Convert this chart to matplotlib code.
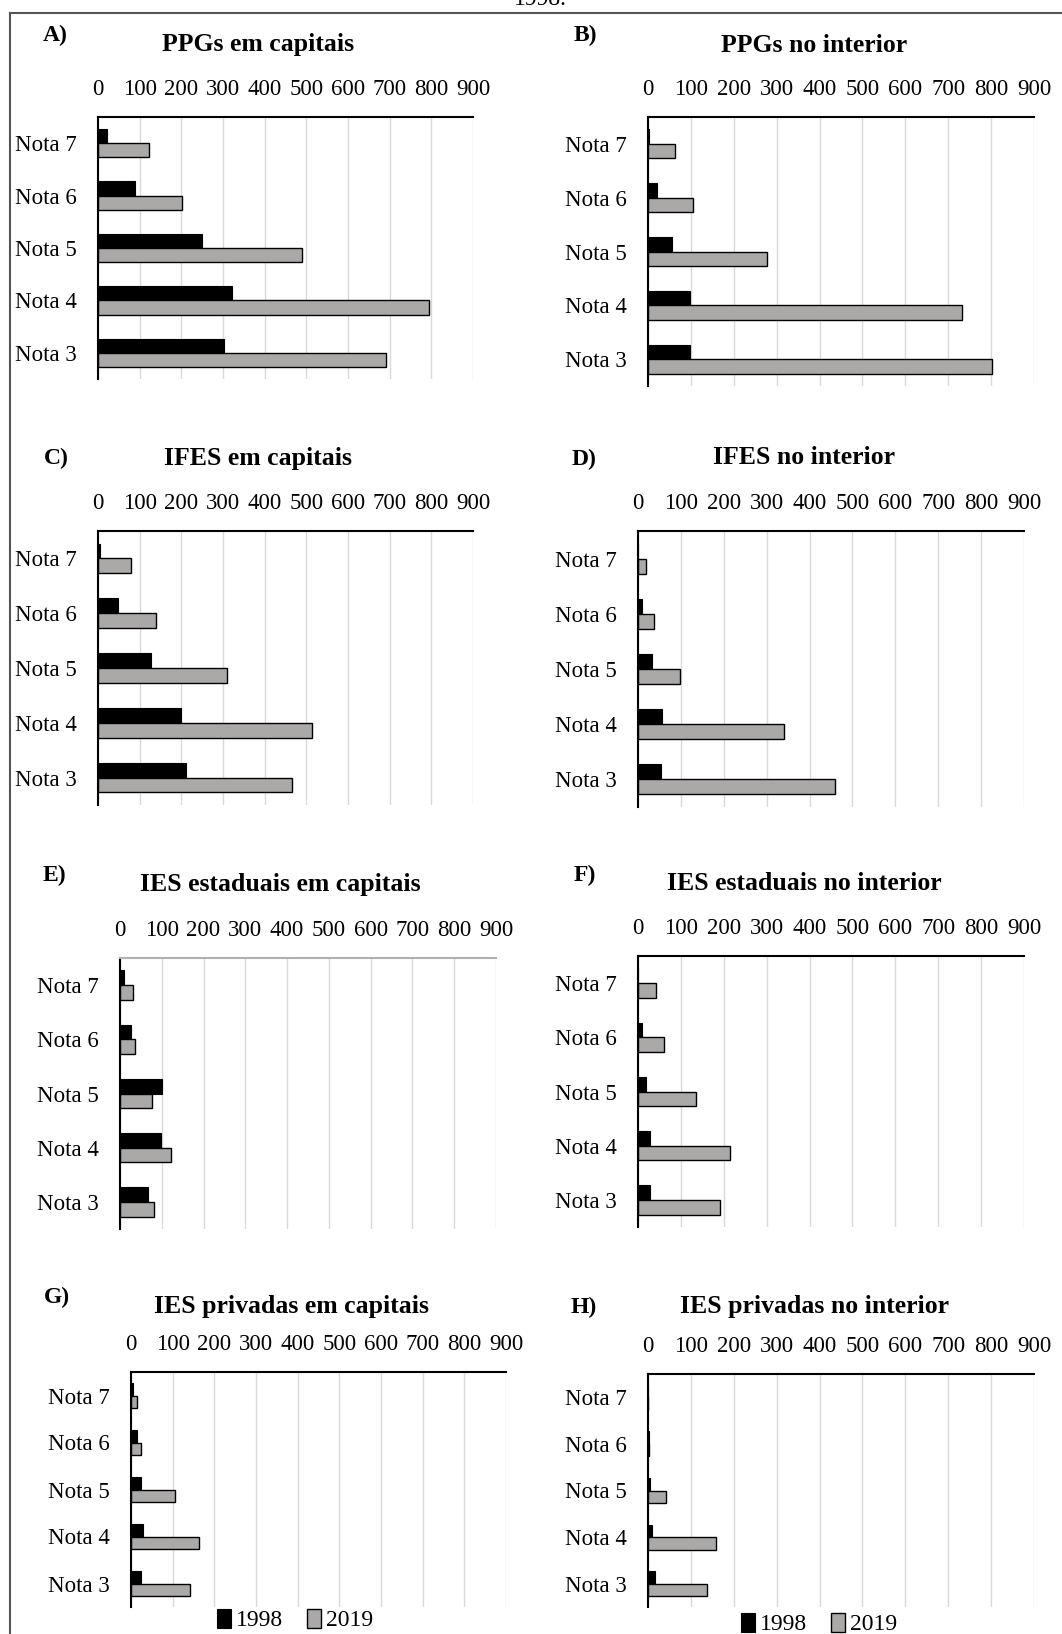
import matplotlib.pyplot as plt
from matplotlib.lines import Line2D
import numpy as np

plt.rcParams['font.family'] = ['Liberation Serif', 'DejaVu Serif']

notas = ['Nota 7', 'Nota 6', 'Nota 5', 'Nota 4', 'Nota 3']
ticks = [0, 100, 200, 300, 400, 500, 600, 700, 800, 900]
anos = ['1998', '2019']

# values, Nota 7 .. Nota 3
ppg_cap_1998 = [21, 89, 250, 322, 302]
ppg_cap_2019 = [122, 202, 490, 794, 690]
ppg_int_1998 = [3, 22, 56, 98, 98]
ppg_int_2019 = [64, 106, 278, 733, 803]
ifes_cap_1998 = [5, 49, 126, 198, 212]
ifes_cap_2019 = [78, 140, 309, 513, 466]
ifes_int_1998 = [0, 10, 33, 57, 53]
ifes_int_2019 = [19, 37, 99, 340, 460]
est_cap_1998 = [10, 26, 101, 97, 68]
est_cap_2019 = [30, 35, 77, 121, 82]
est_int_1998 = [0, 10, 19, 29, 29]
est_int_2019 = [42, 61, 135, 214, 191]
priv_cap_1998 = [4, 14, 23, 29, 23]
priv_cap_2019 = [14, 23, 105, 163, 142]
priv_int_1998 = [0, 3, 5, 10, 16]
priv_int_2019 = [0, 3, 43, 159, 137]

W, H = 1062, 1634
fig = plt.figure(figsize=(W / 100, H / 100), dpi=100)


def fx(x):
    return x / W


def fy(y):
    return 1 - y / H


# (letter, title, 1998, 2019, axes box px, title pos, letter pos, top spine color)
panels = [
    ('A)', 'PPGs em capitais', ppg_cap_1998, ppg_cap_2019, (98, 117, 473, 379), (258, 45), (55, 35), 'black'),
    ('B)', 'PPGs no interior', ppg_int_1998, ppg_int_2019, (648, 117, 1034, 386), (814, 45), (585, 35), 'black'),
    ('C)', 'IFES em capitais', ifes_cap_1998, ifes_cap_2019, (98, 531, 473, 805), (258, 458), (56, 458), 'black'),
    ('D)', 'IFES no interior', ifes_int_1998, ifes_int_2019, (638, 531, 1024, 807), (804, 458), (584, 459), 'black'),
    ('E)', 'IES estaduais em capitais', est_cap_1998, est_cap_2019, (120, 958, 496, 1229), (280, 885), (54, 875), '#b0b0b0'),
    ('F)', 'IES estaduais no interior', est_int_1998, est_int_2019, (638, 956, 1024, 1227), (804, 883), (585, 875), 'black'),
    ('G)', 'IES privadas em capitais', priv_cap_1998, priv_cap_2019, (131, 1372, 506, 1607), (292, 1307), (57, 1297), 'black'),
    ('H)', 'IES privadas no interior', priv_int_1998, priv_int_2019, (648, 1374, 1034, 1607), (814, 1307), (584, 1307), 'black'),
]

gray = '#aba8a8'
y = np.arange(len(notas))
h = 0.27

axes = []
for letter, title, d98, d19, box, tpos, lpos, topc in panels:
    x0, y0, x1, y1 = box
    ax = fig.add_axes([fx(x0), fy(y1), (x1 - x0) / W, (y1 - y0) / H])
    ax.barh(y - h / 2, d98, height=h, color='black', edgecolor='black', linewidth=0.8, label=anos[0])
    ax.barh(y + h / 2, d19, height=h, color=gray, edgecolor='black', linewidth=1.0, label=anos[1])
    ax.set_xlim(0, 900)
    ax.set_ylim(4.5, -0.5)
    ax.set_xticks(ticks)
    ax.set_yticks(y)
    ax.set_yticklabels(notas)
    ax.xaxis.tick_top()
    ax.tick_params(axis='x', length=0, pad=12, labelsize=16.5)
    ax.tick_params(axis='y', length=0, pad=15, labelsize=16.5)
    ax.grid(axis='x', color='#d9d9d9', linewidth=1.0)
    ax.set_axisbelow(True)
    for s in ['right', 'bottom']:
        ax.spines[s].set_visible(False)
    ax.spines['left'].set_linewidth(1.5)
    ax.spines['top'].set_linewidth(1.5)
    ax.spines['top'].set_color(topc)
    fig.text(fx(tpos[0]), fy(tpos[1]), title, ha='center', va='center',
             fontsize=18.5, fontweight='bold')
    fig.text(fx(lpos[0]), fy(lpos[1]), letter, ha='center', va='center',
             fontsize=17, fontweight='bold')
    axes.append(ax)

# legends under G and H
for ax, cx, cy in [(axes[6], 295, 1620), (axes[7], 819, 1624)]:
    ax.legend(loc='center', bbox_to_anchor=(fx(cx), fy(cy)), bbox_transform=fig.transFigure,
              ncol=2, frameon=False, fontsize=17, handlelength=0.6, handleheight=0.9,
              handletextpad=0.2, columnspacing=1.0, borderaxespad=0)

# frame and the caption line cut at the top edge
fig.add_artist(Line2D([fx(10), fx(10)], [fy(13), 0], color='#555555', linewidth=1.5))
fig.add_artist(Line2D([fx(10), 1], [fy(13), fy(13)], color='#555555', linewidth=1.5))
fig.text(fx(540), fy(5), '1998.', ha='center', va='baseline', fontsize=17)

fig.savefig('out.png', dpi=100)
